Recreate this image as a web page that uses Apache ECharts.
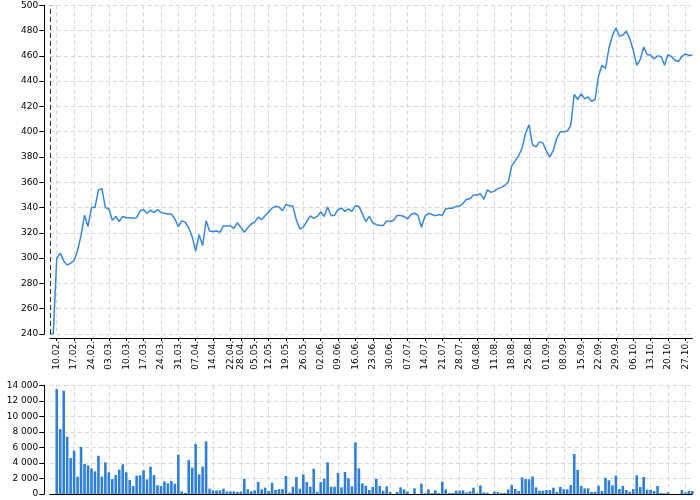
<!DOCTYPE html>
<html>
<head>
<meta charset="utf-8">
<script src="https://cdn.jsdelivr.net/npm/echarts@6/dist/echarts.min.js"></script>
<style>html,body{margin:0;padding:0;background:#fff}#c{width:700px;height:500px}</style>
</head>
<body>
<div id="c"></div>
<script>
// trading days
var dates = [
'06.02.','07.02.','10.02.','11.02.','12.02.','13.02.','14.02.','17.02.','18.02.','19.02.','20.02.','21.02.','24.02.','25.02.','26.02.','27.02.','28.02.',
'03.03.','04.03.','05.03.','06.03.','07.03.','10.03.','11.03.','12.03.','13.03.','14.03.','17.03.','18.03.','19.03.','20.03.','21.03.','24.03.','25.03.','26.03.','27.03.','28.03.','31.03.',
'01.04.','02.04.','03.04.','04.04.','07.04.','08.04.','09.04.','10.04.','11.04.','14.04.','15.04.','16.04.','17.04.','18.04.','22.04.','23.04.','24.04.','28.04.','29.04.','30.04.',
'02.05.','05.05.','06.05.','07.05.','09.05.','12.05.','13.05.','14.05.','15.05.','16.05.','19.05.','20.05.','21.05.','22.05.','23.05.','26.05.','27.05.','28.05.','29.05.','30.05.',
'02.06.','03.06.','04.06.','05.06.','06.06.','09.06.','10.06.','11.06.','12.06.','13.06.','16.06.','17.06.','18.06.','19.06.','20.06.','23.06.','24.06.','25.06.','26.06.','27.06.','30.06.',
'01.07.','02.07.','03.07.','04.07.','07.07.','08.07.','09.07.','10.07.','11.07.','14.07.','15.07.','16.07.','17.07.','18.07.','21.07.','22.07.','23.07.','24.07.','25.07.','28.07.','29.07.','30.07.','31.07.',
'01.08.','04.08.','05.08.','06.08.','07.08.','08.08.','11.08.','12.08.','13.08.','14.08.','15.08.','18.08.','19.08.','20.08.','21.08.','22.08.','25.08.','26.08.','27.08.','28.08.','29.08.',
'01.09.','02.09.','03.09.','04.09.','05.09.','08.09.','09.09.','10.09.','11.09.','12.09.','15.09.','16.09.','17.09.','18.09.','19.09.','22.09.','23.09.','24.09.','25.09.','26.09.','29.09.','30.09.',
'01.10.','02.10.','03.10.','06.10.','07.10.','08.10.','09.10.','10.10.','13.10.','14.10.','15.10.','16.10.','17.10.','20.10.','21.10.','22.10.','23.10.','24.10.','27.10.','29.10.','30.10.'
];
// week-start labels shown on the axis
var weekLabels = ['10.02.','17.02.','24.02.','03.03.','10.03.','17.03.','24.03.','31.03.','07.04.','14.04.','22.04.','28.04.','05.05.','12.05.','19.05.','26.05.','02.06.','09.06.','16.06.','23.06.','30.06.','07.07.','14.07.','21.07.','28.07.','04.08.','11.08.','18.08.','25.08.','01.09.','08.09.','15.09.','22.09.','29.09.','06.10.','13.10.','20.10.','27.10.'];

var price = [
240,240,300,304,298,294.5,296,298,306,318,334,325,340,340,354,355,340,
339,330,333,329,333,332,332,331.5,332,337.5,338.5,335.5,338,336,338.5,336,335.5,335,335,331,325,
329.5,328.5,324,317,305.5,318.5,310,329.5,321.5,321,321.5,320.5,325.5,325.5,325.5,323.5,328,324.5,320.5,324,
327,328.5,332.5,330.5,333.5,336.5,339.5,341,340.5,337.5,342.5,341.5,341,330,323,324.5,329,333.5,331.5,333,
336.5,333,340.5,333.5,334,338.5,339.5,337,339,337,341.5,341,335,329,333,328,326.5,326,325.8,329.4,329,
330,333.7,333.7,333,331,334.5,335.5,334,324.5,333,335.5,334.5,333.5,334.5,334,339,339.5,339.5,341,341,343.5,346.5,347,
350,350,351,346.5,354,352,353,355,356,357.5,360,373,377,381,387,399,405.5,389.5,388,392,391,
384.5,380,385.5,395,400,400,400.5,405,429.5,425.5,430,426,427.5,424,425.5,444,452.5,450,466,476,482,475.5,
476.5,479.5,473.5,464.5,452.5,457,467,461,460.5,457.5,460,459.5,452.5,461,459.5,456.5,455.5,459.5,461.5,460.5,460.5
];

var volume = [
null,null,13500,8370,13300,7380,4630,5580,2230,6050,3860,3690,3300,2920,4930,2230,4075,
2790,1930,2450,3130,3820,2790,1800,1030,2360,2400,3050,1890,3520,2450,1115,1030,1630,1370,1670,1330,5060,
340,130,4375,3390,6435,2530,3520,6780,690,470,470,470,690,340,340,340,260,300,1970,600,
340,470,1540,600,815,390,1460,515,640,640,2320,170,940,2190,690,2530,1540,940,3260,300,
1540,1930,4075,940,940,2700,860,2830,2015,990,6650,3300,1370,1070,515,900,1970,1030,430,990,260,
0,260,860,600,300,0,730,0,1330,90,600,130,470,130,1590,600,130,130,430,430,470,215,340,
815,90,1115,215,170,0,300,260,130,130,600,1160,640,390,2145,1930,1890,2270,860,430,430,
515,515,815,260,900,640,600,1160,5150,3090,1030,730,730,260,300,1070,390,2100,1760,1115,2360,640,
1030,515,300,640,2400,900,2190,560,560,390,1030,130,90,215,0,0,0,515,215,390,390
];

var FONT = 'DejaVu Sans';
function isWeek(idx, val) { return weekLabels.indexOf(dates[idx]) >= 0; }
var gridDash = { color: '#d6d6d6', type: [4, 3], width: 1 };

var chart = echarts.init(document.getElementById('c'), null, { renderer: 'canvas' });
chart.setOption({
  animation: false,
  backgroundColor: '#fff',
  grid: [
    { left: 49.8, right: 7.7, top: 5.3, bottom: 166 },
    { left: 49.8, right: 7.7, top: 385.3, bottom: 6 }
  ],
  xAxis: [
    {
      type: 'category', gridIndex: 0, data: dates, boundaryGap: false, offset: 4,
      axisLine: { lineStyle: { color: '#000', width: 1 } },
      axisTick: { show: true, interval: isWeek, length: 3, lineStyle: { color: '#000' } },
      axisLabel: { interval: isWeek, rotate: 90, fontSize: 9, fontFamily: FONT, color: '#000', margin: 3 },
      splitLine: { show: true, interval: isWeek, lineStyle: gridDash }
    },
    {
      type: 'category', gridIndex: 1, data: dates, boundaryGap: false, offset: 1,
      axisLine: { lineStyle: { color: '#000', width: 1 } },
      axisTick: { show: false },
      axisLabel: { show: false },
      splitLine: { show: true, interval: isWeek, lineStyle: gridDash }
    }
  ],
  yAxis: [
    {
      type: 'value', gridIndex: 0, min: 240, max: 500, interval: 20, offset: 5.5,
      axisLine: { show: true, lineStyle: { color: '#000', width: 1 } },
      axisTick: { show: true, length: 5, lineStyle: { color: '#000' } },
      axisLabel: { fontSize: 9, fontFamily: FONT, color: '#000', margin: 6 },
      splitLine: { show: true, lineStyle: gridDash }
    },
    {
      type: 'value', gridIndex: 1, min: 0, max: 14000, interval: 2000, offset: 5.5,
      axisLine: { show: true, lineStyle: { color: '#000', width: 1 } },
      axisTick: { show: true, length: 5, lineStyle: { color: '#000' } },
      axisLabel: { fontSize: 9, fontFamily: FONT, color: '#000', margin: 6,
        formatter: function (v) { return String(v).replace(/\B(?=(\d{3})+(?!\d))/g, ' '); } },
      splitLine: { show: true, lineStyle: gridDash }
    }
  ],
  series: [
    {
      type: 'line', xAxisIndex: 0, yAxisIndex: 0, data: price, symbol: 'none',
      lineStyle: { color: '#3a87d9', width: 1.5 },
      markLine: {
        silent: true, symbol: 'none', label: { show: false },
        lineStyle: { color: '#333', type: [5, 3], width: 1 },
        data: [{ xAxis: 0 }]
      }
    },
    {
      type: 'bar', xAxisIndex: 1, yAxisIndex: 1, data: volume, barWidth: 2.6,
      itemStyle: { color: '#2f7fd6' }
    }
  ]
});
</script>
</body>
</html>
